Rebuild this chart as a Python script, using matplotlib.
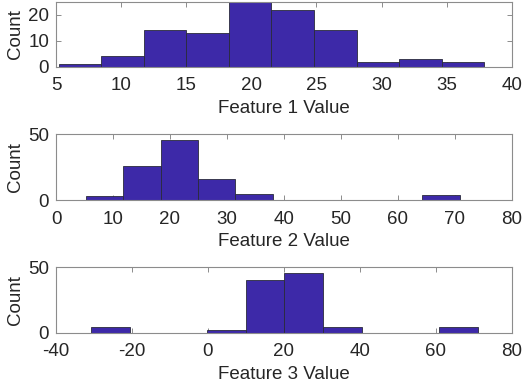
import matplotlib
matplotlib.use("Agg")
import matplotlib.pyplot as plt
import numpy as np

# Data
edges1 = [5.23, 8.49, 11.76, 15.02, 18.29, 21.55, 24.81, 28.08, 31.34, 34.61, 37.87]
counts1 = [1, 4, 14, 13, 25, 22, 14, 2, 3, 2]
edges2 = [5.21, 11.78, 18.35, 24.92, 31.49, 38.06, 44.63, 51.20, 57.77, 64.34, 70.91]
counts2 = [3, 26, 46, 16, 5, 0, 0, 0, 0, 4]
edges3 = [-30.70, -20.53, -10.36, -0.19, 9.98, 20.15, 30.32, 40.49, 50.66, 60.83, 71.00]
counts3 = [4, 0, 0, 2, 40, 46, 4, 0, 0, 4]
xlabels = ["Feature 1 Value", "Feature 2 Value", "Feature 3 Value"]
xlims = [(5, 40), (0, 80), (-40, 80)]
xticks = [list(range(5, 41, 5)), list(range(0, 81, 10)), list(range(-40, 81, 20))]
ylims = [(0, 25), (0, 50), (0, 50)]
yticks = [[0, 10, 20], [0, 50], [0, 50]]

plt.rcParams['font.family'] = ['Liberation Sans', 'DejaVu Sans']
plt.rcParams['axes.unicode_minus'] = False
fig = plt.figure(figsize=(5.22, 3.87), dpi=100)

W, H = 522, 387
boxes = [(56, 2, 511.7, 66.7), (56, 134.3, 511.7, 200.3), (56, 267.3, 511.7, 332.7)]
txt = '#262626'
axc = '#8c8c8c'
fc = '#3d29a8'
ec = '#2a2a3a'
fs = 13.5

for i, (edges, counts) in enumerate([(edges1, counts1), (edges2, counts2), (edges3, counts3)]):
    l, t, r, b = boxes[i]
    ax = fig.add_axes([l / W, 1 - b / H, (r - l) / W, (b - t) / H])
    e = np.array(edges)
    ax.bar(e[:-1], counts, width=np.diff(e), align='edge', color=fc,
           edgecolor=ec, linewidth=0.6, zorder=2)
    ax.set_xlim(*xlims[i])
    ax.set_ylim(*ylims[i])
    ax.set_xticks(xticks[i])
    ax.set_yticks(yticks[i])
    ax.set_xlabel(xlabels[i], fontsize=fs, color=txt, labelpad=4)
    ax.set_ylabel("Count", fontsize=fs, color=txt, labelpad=3)
    ax.tick_params(direction='in', top=True, right=True, length=3.5,
                   width=0.7, color=axc, labelsize=fs, labelcolor=txt, pad=7.5)
    ax.tick_params(axis='y', pad=5)
    for s in ax.spines.values():
        s.set_color(axc)
        s.set_linewidth(0.8)
        s.set_zorder(3)

fig.savefig("out.png", dpi=100)
